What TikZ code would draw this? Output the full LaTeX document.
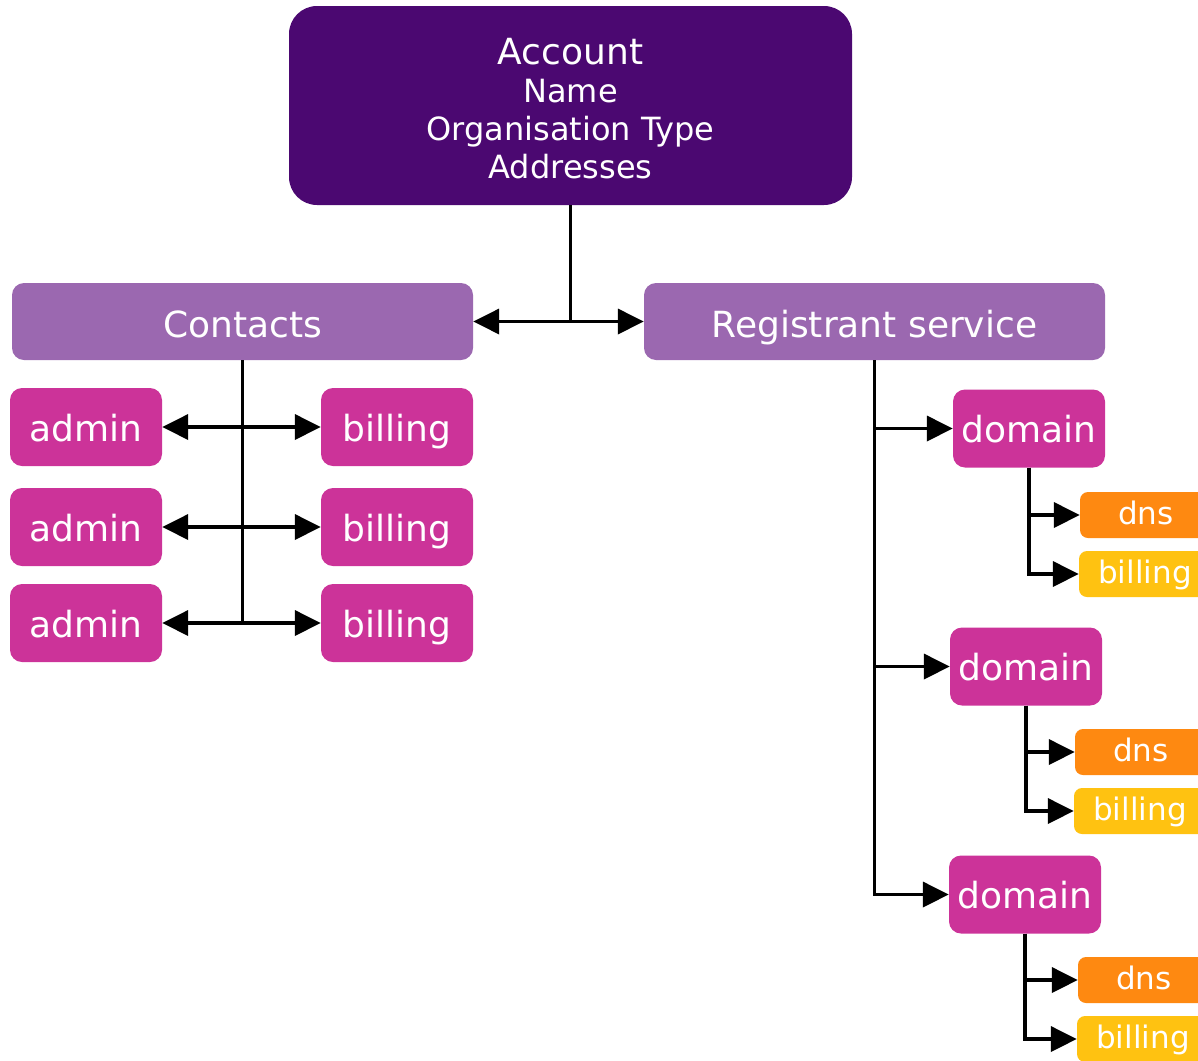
\documentclass[tikz,border=0pt]{standalone}
\usepackage{fontspec}
\setmainfont{DejaVu Sans}
\usetikzlibrary{arrows.meta}

\definecolor{acctpurple}{RGB}{75,8,113}
\definecolor{lilac}{RGB}{155,104,176}
\definecolor{magenta}{RGB}{204,51,153}
\definecolor{dnsorange}{RGB}{254,137,17}
\definecolor{billyellow}{RGB}{255,194,17}

\tikzset{
  box/.style={rectangle, inner sep=0pt, text=white, font=\fontsize{36}{40}\selectfont,
    text height=30pt, text depth=2pt},
  acctbox/.style={rectangle, inner sep=0pt, text=white, font=\fontsize{36}{40}\selectfont,
    fill=acctpurple, rounded corners=28pt, minimum width=563pt, minimum height=199pt},
  groupbox/.style={box, fill=lilac, rounded corners=12pt, minimum width=461pt, minimum height=77pt,
    text height=32pt, text depth=1pt},
  itembox/.style={box, fill=magenta, rounded corners=12pt, minimum width=152pt, minimum height=78pt},
  smallbox/.style={box, rounded corners=8pt, minimum width=132pt, minimum height=46pt,
    font=\fontsize{31}{34}\selectfont, text height=22pt, text depth=4pt},
  dnsbox/.style={smallbox, fill=dnsorange},
  billbox/.style={smallbox, fill=billyellow},
  link/.style={line width=3.6pt, -{Triangle[length=26pt,width=25pt]}},
}

\begin{document}
\begin{tikzpicture}[x=1pt, y=-1pt]
  \useasboundingbox (0,0) rectangle (1198,1060);
  \clip (0,0) rectangle (1198,1060);

  % account header
  \node[acctbox] (account) at (570.5,105.5) {};
  \node[text=white, align=center, inner sep=0pt, font=\fontsize{32}{38}\selectfont]
    (accttext) at (570.5,109)
    {{\fontsize{36}{38}\selectfont Account}\\Name\\Organisation Type\\Addresses};

  % second level
  \node[groupbox] (contacts) at (242.5,321.5) {Contacts};
  \node[groupbox] (registrant) at (874.5,321.5) {Registrant service};

  % contacts
  \node[itembox] (admin1) at (86,427) {admin};
  \node[itembox] (admin2) at (86,527) {admin};
  \node[itembox] (admin3) at (86,623) {admin};
  \node[itembox] (bill1) at (397,427) {billing};
  \node[itembox] (bill2) at (397,527) {billing};
  \node[itembox] (bill3) at (397,623) {billing};

  % registrant service
  \node[itembox] (domain1) at (1029,428.5) {domain};
  \node[itembox] (domain2) at (1026,666.5) {domain};
  \node[itembox] (domain3) at (1025,894.5) {domain};

  \node[dnsbox]  (dns1) at (1146,515) {dns};
  \node[billbox] (sbill1) at (1145,574) {billing};
  \node[dnsbox]  (dns2) at (1141,752) {dns};
  \node[billbox] (sbill2) at (1140,811) {billing};
  \node[dnsbox]  (dns3) at (1144,980) {dns};
  \node[billbox] (sbill3) at (1143,1039) {billing};

  % connectors
  \draw[link] (account.south) |- (contacts.east);
  \draw[link] (account.south) |- (registrant.west);

  \foreach \i in {1,2,3} {
    \draw[link] (contacts.south) |- (admin\i.east);
    \draw[link] (contacts.south) |- (bill\i.west);
    \draw[link] (registrant.south) |- (domain\i.west);
    \draw[link] (domain\i.south) |- (dns\i.west);
    \draw[link] (domain\i.south) |- (sbill\i.west);
  }
\end{tikzpicture}
\end{document}
